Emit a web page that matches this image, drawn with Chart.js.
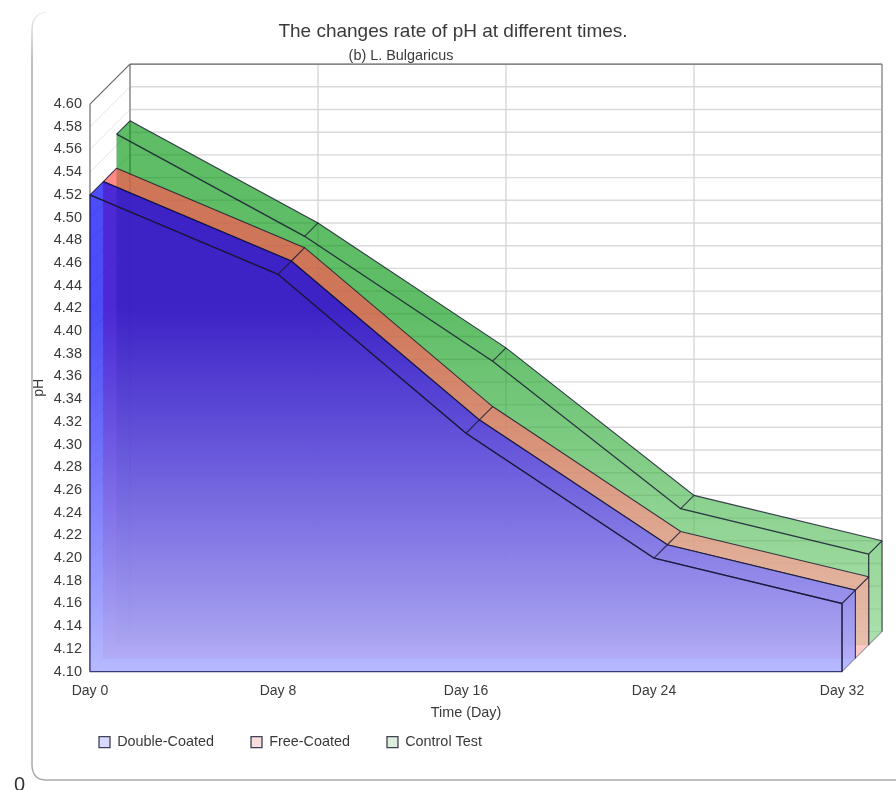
<!DOCTYPE html>
<html>
<head>
<meta charset="utf-8">
<title>pH chart</title>
<script src="https://cdn.jsdelivr.net/npm/chart.js@4"></script>
<style>
    html, body { margin: 0; padding: 0; background: #fff; overflow: hidden; }
    #wrap { position: relative; width: 896px; height: 790px; overflow: hidden; }
    #stray { position: absolute; left: 14px; top: 773px; font: 20px "Liberation Sans", Arial, sans-serif; color: #333; }
</style>
</head>
<body>
<div id="wrap">
    <canvas id="phChart" width="896" height="790"></canvas>
    <div id="stray">0</div>
</div>
<script>
// values
const days = ['Day 0', 'Day 8', 'Day 16', 'Day 24', 'Day 32'];
const doubleCoated = [4.52, 4.45, 4.31, 4.20, 4.16];
const freeCoated = [4.52, 4.45, 4.31, 4.20, 4.16];
const controlTest = [4.55, 4.46, 4.35, 4.22, 4.18];

const titleText = 'The changes rate of pH at different times.';
const subtitleText = '(b) L. Bulgaricus';
const fontFamily = '"Liberation Sans", Arial, sans-serif';
const textColor = '#3a3a3a';

// depth of the whole box and of one series slab
const boxDepth = 40;
const slabDepth = boxDepth / 3;

// top and bottom colours of the gradient on each slab
const faceColors = [
    ['rgba(0,0,245,0.7)', 'rgba(170,172,255,0.84)'],
    ['rgba(255,87,83,0.7)', 'rgba(255,185,178,0.7)'],
    ['rgba(0,150,12,0.63)', 'rgba(135,212,135,0.63)']
];
const edgeColor = 'rgba(20,20,45,0.8)';

function faceGradient(ctx, yScale, index) {
    const top = yScale.getPixelForValue(4.6);
    const bottom = yScale.getPixelForValue(4.1);
    const gradient = ctx.createLinearGradient(0, top, 0, bottom);
    gradient.addColorStop(0, faceColors[index][0]);
    gradient.addColorStop(0.36, faceColors[index][0]);
    gradient.addColorStop(1, faceColors[index][1]);
    return gradient;
}

function polygon(ctx, points) {
    ctx.beginPath();
    points.forEach((p, i) => {
        if (i === 0) ctx.moveTo(p[0], p[1]);
        else ctx.lineTo(p[0], p[1]);
    });
    ctx.closePath();
}

function drawLine(ctx, x1, y1, x2, y2, color, width) {
    ctx.strokeStyle = color;
    ctx.lineWidth = width;
    ctx.beginPath();
    ctx.moveTo(x1, y1);
    ctx.lineTo(x2, y2);
    ctx.stroke();
}

const boxPlugin = {
    id: 'box3d',
    afterLayout(chart) {
        // the subtitle and legend do not sit where the layout would put them
        chart.boxes.forEach((box) => {
            if (box.options && box.options.text === titleText) {
                box.left = 10;
                box.right = 896;
            }
            if (box.options && box.options.text === subtitleText) {
                box.left = 10;
                box.right = 792;
            }
        });
        chart.legend.left = 62;
        chart.legend.top = 698;
    },
    beforeDatasetsDraw(chart) {
        const ctx = chart.ctx;
        const { x, y } = chart.scales;
        const left = x.getPixelForValue(0);
        const right = x.getPixelForValue(days.length - 1);
        const bottom = y.getPixelForValue(4.1);
        const top = y.getPixelForValue(4.6);
        ctx.save();

        // rounded panel behind the chart
        const fade = ctx.createLinearGradient(0, 12, 0, 60);
        fade.addColorStop(0, 'rgba(170,170,170,0.15)');
        fade.addColorStop(1, 'rgba(170,170,170,1)');
        ctx.strokeStyle = fade;
        ctx.lineWidth = 1.5;
        ctx.beginPath();
        ctx.moveTo(46, 12);
        ctx.quadraticCurveTo(32, 14, 32, 30);
        ctx.lineTo(32, 766);
        ctx.stroke();
        ctx.strokeStyle = '#aaa';
        ctx.beginPath();
        ctx.moveTo(32, 766);
        ctx.quadraticCurveTo(33, 780, 46, 780);
        ctx.lineTo(896, 780);
        ctx.stroke();

        // grid on the left wall and back wall
        y.ticks.forEach((tick) => {
            const py = y.getPixelForValue(tick.value);
            drawLine(ctx, left, py, left + boxDepth, py - boxDepth, '#e4e4e4', 1);
            drawLine(ctx, left + boxDepth, py - boxDepth, right + boxDepth, py - boxDepth, '#dadada', 1.4);
        });
        days.forEach((day, i) => {
            const px = x.getPixelForValue(i);
            drawLine(ctx, px + boxDepth, top - boxDepth, px + boxDepth, bottom - boxDepth, '#cfcfcf', 1.2);
        });

        // frame of the box
        const frame = '#6a6a6a';
        drawLine(ctx, left, top, left, bottom, frame, 1.2);
        drawLine(ctx, left, top, left + boxDepth, top - boxDepth, frame, 1.2);
        drawLine(ctx, left + boxDepth, top - boxDepth, right + boxDepth, top - boxDepth, frame, 1.2);
        drawLine(ctx, left + boxDepth, top - boxDepth, left + boxDepth, bottom - boxDepth, frame, 1);
        drawLine(ctx, right + boxDepth, top - boxDepth, right + boxDepth, bottom - boxDepth, '#8a8a8a', 1.2);
        ctx.restore();
    },
    beforeDatasetDraw(chart, args) {
        const ctx = chart.ctx;
        const { x, y } = chart.scales;
        const i = args.index;
        const values = chart.data.datasets[i].data;
        const d = i * slabDepth;
        const fill = faceGradient(ctx, y, i);
        const pts = values.map((v, n) => [x.getPixelForValue(n) + d, y.getPixelForValue(v) - d]);
        const last = pts[pts.length - 1];
        const floor = y.getPixelForValue(4.1) - d;

        ctx.save();
        ctx.fillStyle = fill;

        // right end of the slab
        polygon(ctx, [
            last,
            [last[0] + slabDepth, last[1] - slabDepth],
            [last[0] + slabDepth, floor - slabDepth],
            [last[0], floor]
        ]);
        ctx.fill();
        ctx.strokeStyle = 'rgba(20,20,45,0.55)';
        ctx.lineWidth = 1;
        ctx.stroke();

        // top ribbon, one quad per segment
        for (let n = 0; n < pts.length - 1; n++) {
            const a = pts[n];
            const b = pts[n + 1];
            polygon(ctx, [a, b, [b[0] + slabDepth, b[1] - slabDepth], [a[0] + slabDepth, a[1] - slabDepth]]);
            ctx.fill();
        }
        ctx.strokeStyle = edgeColor;
        ctx.lineWidth = 1.1;
        ctx.beginPath();
        pts.forEach((p, n) => {
            if (n === 0) ctx.moveTo(p[0] + slabDepth, p[1] - slabDepth);
            else ctx.lineTo(p[0] + slabDepth, p[1] - slabDepth);
        });
        ctx.stroke();
        pts.forEach((p) => {
            ctx.beginPath();
            ctx.moveTo(p[0], p[1]);
            ctx.lineTo(p[0] + slabDepth, p[1] - slabDepth);
            ctx.stroke();
        });

        // front face
        polygon(ctx, pts.concat([[last[0], floor], [pts[0][0], floor]]));
        ctx.fill();
        ctx.strokeStyle = i === 0 ? 'rgba(30,30,90,0.85)' : 'rgba(30,30,70,0.12)';
        ctx.stroke();
        ctx.strokeStyle = 'rgba(20,20,45,0.75)';
        ctx.beginPath();
        ctx.moveTo(last[0], last[1]);
        ctx.lineTo(last[0], floor);
        ctx.stroke();
        ctx.restore();

        // the line itself is drawn by Chart.js on the slab's own plane
        ctx.save();
        ctx.translate(d, -d);
    },
    afterDatasetDraw(chart) {
        chart.ctx.restore();
    }
};

function makeDataset(label, values, legendFill) {
    return {
        label: label,
        data: values,
        fill: false,
        clip: false,
        tension: 0,
        pointRadius: 0,
        borderWidth: 1.3,
        borderColor: edgeColor,
        backgroundColor: legendFill
    };
}

const ctx = document.getElementById('phChart').getContext('2d');
new Chart(ctx, {
    type: 'line',
    data: {
        labels: days,
        datasets: [
            makeDataset('Double-Coated', doubleCoated, '#d9d9ff'),
            makeDataset('Free-Coated', freeCoated, '#f9dedd'),
            makeDataset('Control Test', controlTest, '#dcefdc')
        ]
    },
    plugins: [boxPlugin],
    options: {
        responsive: false,
        animation: false,
        layout: { padding: { left: 26, right: 54, top: 20, bottom: 3 } },
        font: { family: fontFamily },
        plugins: {
            title: {
                display: true,
                text: titleText,
                color: textColor,
                font: { family: fontFamily, size: 19, weight: 'normal' },
                padding: { top: 0, bottom: 5 }
            },
            subtitle: {
                display: true,
                text: subtitleText,
                color: textColor,
                font: { family: fontFamily, size: 14.4, weight: 'normal' },
                padding: { top: 0, bottom: 39 }
            },
            legend: {
                position: 'bottom',
                align: 'start',
                labels: {
                    boxWidth: 11,
                    boxHeight: 11,
                    padding: 37,
                    color: textColor,
                    font: { family: fontFamily, size: 14.4 }
                }
            },
            tooltip: { enabled: false }
        },
        scales: {
            x: {
                offset: false,
                grid: { display: false },
                border: { display: false },
                afterFit(scale) { scale.height = 54; },
                ticks: {
                    maxRotation: 0,
                    padding: 3,
                    color: textColor,
                    font: { family: fontFamily, size: 14 }
                },
                title: {
                    display: true,
                    text: 'Time (Day)',
                    color: textColor,
                    font: { family: fontFamily, size: 14.4 },
                    padding: { top: 0, bottom: 4 }
                }
            },
            y: {
                min: 4.1,
                max: 4.6,
                grid: { display: false },
                border: { display: false },
                afterFit(scale) { scale.width = 64; },
                ticks: {
                    stepSize: 0.02,
                    autoSkip: false,
                    padding: 0,
                    color: textColor,
                    font: { family: fontFamily, size: 14.5 },
                    callback: (value) => Number(value).toFixed(2)
                },
                title: {
                    display: true,
                    text: 'pH',
                    color: textColor,
                    font: { family: fontFamily, size: 14 },
                    padding: { top: 5, bottom: 0 }
                }
            }
        }
    }
});
</script>
</body>
</html>
